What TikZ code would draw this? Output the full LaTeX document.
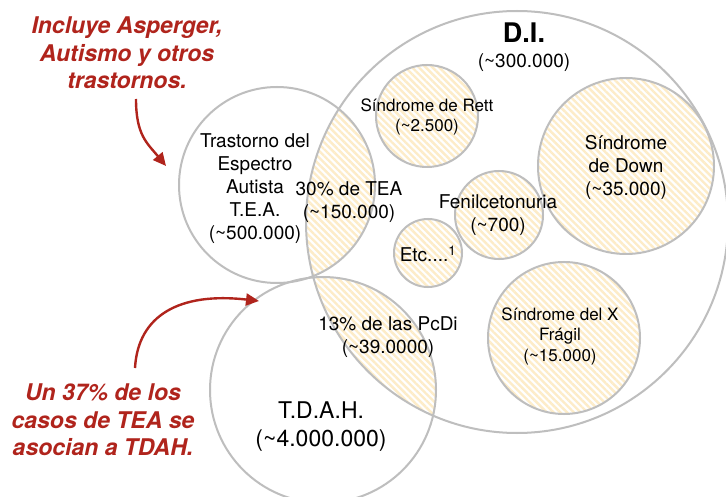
\documentclass[tikz,border=0pt]{standalone}
\usepackage{fontspec}
\setmainfont{TeX Gyre Heros}
\usetikzlibrary{arrows.meta,patterns.meta}
\definecolor{ringgray}{RGB}{190,190,190}
\definecolor{hatchy}{RGB}{253,236,200}
\definecolor{notered}{RGB}{176,36,28}
\begin{document}
\begin{tikzpicture}[x=1pt,y=-1pt,
    ring/.style={circle,draw=ringgray,line width=2pt,inner sep=0pt},
    hatch/.style={pattern={Lines[angle=-45,distance=4.8pt,line width=2.4pt]},
        pattern color=hatchy},
    lbl/.style={align=center,inner sep=0pt,font=\fontsize{19}{23}\selectfont},
    sml/.style={align=center,inner sep=0pt,font=\fontsize{17}{20.5}\selectfont},
    big/.style={align=center,inner sep=0pt,font=\fontsize{23}{28}\selectfont},
    note/.style={align=center,inner sep=0pt,text=notered,
        font=\fontsize{23}{27.5}\selectfont\bfseries\itshape},
    redarrow/.style={draw=notered,line width=2.4pt,
        -{Triangle[length=13pt,width=12pt]}}
    ]
\fill[white] (0,0) rectangle (726,497);
\useasboundingbox (0,0) rectangle (726,497);
% overlaps with D.I.
\begin{scope}
  \clip (517,222) circle[radius=211];
  \fill[hatch] (277,185) circle[radius=98];
  \fill[hatch] (323,390) circle[radius=113];
\end{scope}
\node[ring,minimum size=422pt] (di) at (517,222) {};
\node[ring,minimum size=196pt] (tea) at (277,185) {};
\node[ring,minimum size=226pt] (tdah) at (323,390) {};
\node[ring,hatch,minimum size=102pt] (rett) at (427,116) {};
\node[ring,hatch,minimum size=176pt] (down) at (626,166) {};
\node[ring,hatch,minimum size=88pt] (fenil) at (499,215) {};
\node[ring,hatch,minimum size=68pt] (etc) at (428,253) {};
\node[ring,hatch,minimum size=152pt] (xfrag) at (564,338) {};
% labels
\node[font=\fontsize{27}{30}\selectfont\bfseries,inner sep=0pt] (dititle) at (524,33) {D.I.};
\node[lbl] (dinum) at (524,63) {(\textasciitilde300.000)};
\node[lbl] (teatxt) at (255,189) {Trastorno del\\Espectro\\Autista\\T.E.A.\\(\textasciitilde500.000)};
\node[lbl] (teadi) at (349,202) {30\% de TEA\\(\textasciitilde150.000)};
\node[sml] (retttxt) at (427,117) {Síndrome de Rett\\(\textasciitilde2.500)};
\node[lbl] (downtxt) at (626,167) {Síndrome\\de Down\\(\textasciitilde35.000)};
\node[lbl] (feniltxt) at (498,215) {Fenilcetonuria\\(\textasciitilde700)};
\node[lbl] (etctxt) at (428,254) {Etc....\textsuperscript{1}};
\node[sml] (xfragtxt) at (560,336) {Síndrome del X\\Frágil\\(\textasciitilde15.000)};
\node[lbl] (tdahdi) at (388,337) {13\% de las PcDi\\(\textasciitilde39.0000)};
\node[big] (tdahtxt) at (321,427) {T.D.A.H.\\(\textasciitilde4.000.000)};
% notes
\node[note] (incluye) at (127,53) {Incluye Asperger,\\Autismo y otros\\trastornos.};
\node[note] (tdahnote) at (103,420) {Un 37\% de los\\casos de TEA se\\asocian a TDAH.};
\coordinate (incluye end) at (136,99);
\coordinate (tea tip) at (166,166);
\coordinate (tdahnote end) at (135,368);
\coordinate (tdah tip) at (259,301);
\draw[redarrow] (incluye end) .. controls (136,135) and (147,143) .. (tea tip);
\draw[redarrow] (tdahnote end) .. controls (138,315) and (180,292) .. (tdah tip);
\end{tikzpicture}
\end{document}
